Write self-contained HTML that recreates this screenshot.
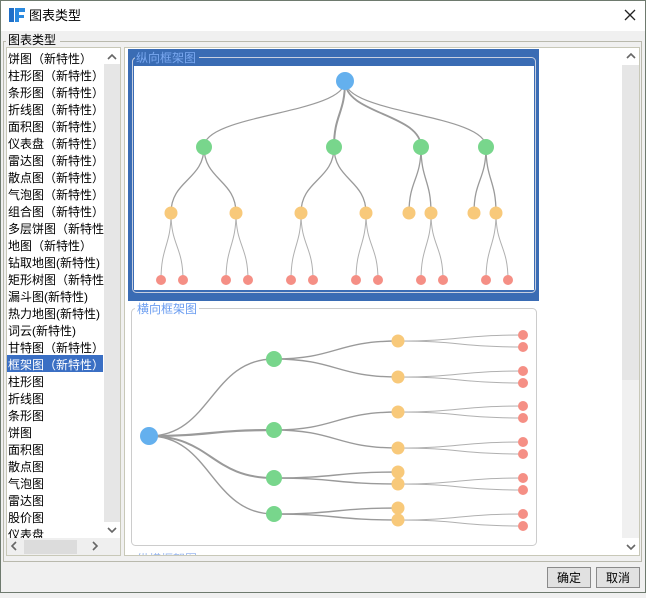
<!DOCTYPE html>
<html><head><meta charset="utf-8"><style>
body{margin:0;width:646px;height:593px;overflow:hidden;background:#f0f0f0;font-family:"Liberation Sans","Noto Sans CJK SC","WenQuanYi Zen Hei",sans-serif;}
svg text{font-family:"Liberation Sans","Noto Sans CJK SC","WenQuanYi Zen Hei",sans-serif;}
</style></head><body>
<svg width="646" height="593" xmlns="http://www.w3.org/2000/svg">
<rect x="0" y="0" width="646" height="593" fill="#f0f0f0"/>
<rect x="0.5" y="0.5" width="645" height="592" fill="none" stroke="#6e7a6e"/>
<rect x="1" y="1" width="644" height="30" fill="#fff"/>
<path d="M9 8 h5 v14 h-5z" fill="#1f6fc8"/><path d="M15 8 h10 v4 h-6 v3 h5 v3 h-5 v4 h-4z" fill="#2a8ae0"/>
<text x="29" y="20" font-size="13" fill="#000">图表类型</text>
<path d="M625 10 l10 10 M635 10 l-10 10" stroke="#222" stroke-width="1.3"/>
<rect x="3.5" y="41.5" width="638" height="520" fill="none" stroke="#b9b9ad"/>
<rect x="6" y="34" width="54" height="14" fill="#f0f0f0"/>
<text x="8" y="44" font-size="12">图表类型</text>
<rect x="6.5" y="47.5" width="114" height="508" fill="#fff" stroke="#c8c8b8"/>
<rect x="104" y="48" width="16" height="490" fill="#e6e6e6"/>
<rect x="104" y="48" width="16" height="16" fill="#fff"/>
<path d="M108 59 l4 -4 l4 4" stroke="#666" stroke-width="1.6" fill="none"/>
<rect x="104" y="522" width="16" height="16" fill="#fff"/>
<path d="M108 528 l4 4 l4 -4" stroke="#666" stroke-width="1.6" fill="none"/>
<rect x="7" y="355" width="96" height="17" fill="#3a6fc4"/>
<g font-size="12" fill="#000">
<text x="8" y="63">饼图（新特性）</text>
<text x="8" y="80">柱形图（新特性）</text>
<text x="8" y="97">条形图（新特性）</text>
<text x="8" y="114">折线图（新特性）</text>
<text x="8" y="131">面积图（新特性）</text>
<text x="8" y="148">仪表盘（新特性）</text>
<text x="8" y="165">雷达图（新特性）</text>
<text x="8" y="182">散点图（新特性）</text>
<text x="8" y="199">气泡图（新特性）</text>
<text x="8" y="216">组合图（新特性）</text>
<text x="8" y="233">多层饼图（新特性</text>
<text x="8" y="250">地图（新特性）</text>
<text x="8" y="267">钻取地图(新特性)</text>
<text x="8" y="284">矩形树图（新特性</text>
<text x="8" y="301">漏斗图(新特性)</text>
<text x="8" y="318">热力地图(新特性)</text>
<text x="8" y="335">词云(新特性)</text>
<text x="8" y="352">甘特图（新特性）</text>
<text x="8" y="369" fill="#fff">框架图（新特性）</text>
<text x="8" y="386">柱形图</text>
<text x="8" y="403">折线图</text>
<text x="8" y="420">条形图</text>
<text x="8" y="437">饼图</text>
<text x="8" y="454">面积图</text>
<text x="8" y="471">散点图</text>
<text x="8" y="488">气泡图</text>
<text x="8" y="505">雷达图</text>
<text x="8" y="522">股价图</text>
<text x="8" y="539">仪表盘</text>
</g>
<rect x="7" y="538" width="113" height="17" fill="#efefef"/>
<rect x="24" y="540" width="53" height="14" fill="#dcdcdc"/>
<path d="M16 542 l-4 4 l4 4" stroke="#666" stroke-width="1.6" fill="none"/>
<path d="M93 542 l4 4 l-4 4" stroke="#666" stroke-width="1.6" fill="none"/>
<rect x="124.5" y="47.5" width="515" height="508" fill="#fff" stroke="#c8c8b8"/>
<rect x="622" y="48" width="17" height="490" fill="#e6e6e6"/>
<rect x="622" y="48" width="17" height="17" fill="#fff"/>
<path d="M627 58 l4 -4 l4 4" stroke="#666" stroke-width="1.6" fill="none"/>
<rect x="622" y="380" width="17" height="158" fill="#f0f0f0"/>
<rect x="622" y="538" width="17" height="17" fill="#fff"/>
<path d="M627 545 l4 4 l4 -4" stroke="#666" stroke-width="1.6" fill="none"/>
<rect x="128" y="49" width="411" height="252" fill="#3a6cb4"/>
<rect x="134" y="66" width="400" height="224" fill="#fff"/>
<rect x="132.5" y="57.5" width="403" height="235" rx="4" fill="none" stroke="#c8d0e0"/>
<rect x="135" y="50" width="64" height="14" fill="#3a6cb4"/>
<text x="136" y="62" font-size="12" fill="#7aa8f0">纵向框架图</text>
<g fill="none" stroke="#9a9a9a">
<path d="M345 81 C345 114 204 114 204 147" stroke-width="1.2"/>
<path d="M345 81 C345 114 334 114 334 147" stroke-width="2"/>
<path d="M345 81 C345 114 421 114 421 147" stroke-width="1.8"/>
<path d="M345 81 C345 114 486 114 486 147" stroke-width="1.2"/>
<g stroke-width="1.3">
<path d="M204 147 C204 180 171 180 171 213"/><path d="M204 147 C204 180 236 180 236 213"/>
<path d="M334 147 C334 180 301 180 301 213"/><path d="M334 147 C334 180 366 180 366 213"/>
<path d="M421 147 C421 180 409 180 409 213"/><path d="M421 147 C421 180 431 180 431 213"/>
<path d="M486 147 C486 180 474 180 474 213"/><path d="M486 147 C486 180 496 180 496 213"/>
</g>
<g stroke-width="1" stroke="#b0b0b0">
<path d="M171 213 C171 246 161 246 161 280"/><path d="M171 213 C171 246 183 246 183 280"/>
<path d="M236 213 C236 246 226 246 226 280"/><path d="M236 213 C236 246 248 246 248 280"/>
<path d="M301 213 C301 246 291 246 291 280"/><path d="M301 213 C301 246 313 246 313 280"/>
<path d="M366 213 C366 246 356 246 356 280"/><path d="M366 213 C366 246 378 246 378 280"/>
<path d="M431 213 C431 246 421 246 421 280"/><path d="M431 213 C431 246 443 246 443 280"/>
<path d="M496 213 C496 246 486 246 486 280"/><path d="M496 213 C496 246 508 246 508 280"/>
</g>
</g>
<circle cx="345" cy="81" r="9" fill="#64b0ee"/>
<g fill="#78d68c"><circle cx="204" cy="147" r="8"/><circle cx="334" cy="147" r="8"/><circle cx="421" cy="147" r="8"/><circle cx="486" cy="147" r="8"/></g>
<g fill="#f8c97a"><circle cx="171" cy="213" r="6.5"/><circle cx="236" cy="213" r="6.5"/><circle cx="301" cy="213" r="6.5"/><circle cx="366" cy="213" r="6.5"/><circle cx="409" cy="213" r="6.5"/><circle cx="431" cy="213" r="6.5"/><circle cx="474" cy="213" r="6.5"/><circle cx="496" cy="213" r="6.5"/></g>
<g fill="#f58f85"><circle cx="161" cy="280" r="5"/><circle cx="183" cy="280" r="5"/><circle cx="226" cy="280" r="5"/><circle cx="248" cy="280" r="5"/><circle cx="291" cy="280" r="5"/><circle cx="313" cy="280" r="5"/><circle cx="356" cy="280" r="5"/><circle cx="378" cy="280" r="5"/><circle cx="421" cy="280" r="5"/><circle cx="443" cy="280" r="5"/><circle cx="486" cy="280" r="5"/><circle cx="508" cy="280" r="5"/></g>
<rect x="131.5" y="308.5" width="405" height="237" rx="4" fill="none" stroke="#cccccc"/>
<rect x="135" y="301" width="64" height="14" fill="#fff"/>
<text x="137" y="313" font-size="12" fill="#6a9cf0">横向框架图</text>
<g fill="none" stroke="#9a9a9a">
<path d="M149 436 C211 436 211 359 274 359" stroke-width="1.4"/>
<path d="M149 436 C211 436 211 430 274 430" stroke-width="2.2"/>
<path d="M149 436 C211 436 211 478 274 478" stroke-width="2"/>
<path d="M149 436 C211 436 211 514 274 514" stroke-width="1.4"/>
<g stroke-width="1.4">
<path d="M274 359 C336 359 336 341 398 341"/><path d="M274 359 C336 359 336 377 398 377"/>
<path d="M274 430 C336 430 336 412 398 412"/><path d="M274 430 C336 430 336 448 398 448"/>
<path d="M274 478 C336 478 336 472 398 472"/><path d="M274 478 C336 478 336 484 398 484"/>
<path d="M274 514 C336 514 336 508 398 508"/><path d="M274 514 C336 514 336 520 398 520"/>
</g>
<g stroke-width="1" stroke="#b0b0b0">
<path d="M398 341 C460 341 460 335 523 335"/><path d="M398 341 C460 341 460 347 523 347"/>
<path d="M398 377 C460 377 460 371 523 371"/><path d="M398 377 C460 377 460 383 523 383"/>
<path d="M398 412 C460 412 460 406 523 406"/><path d="M398 412 C460 412 460 418 523 418"/>
<path d="M398 448 C460 448 460 442 523 442"/><path d="M398 448 C460 448 460 454 523 454"/>
<path d="M398 484 C460 484 460 478 523 478"/><path d="M398 484 C460 484 460 490 523 490"/>
<path d="M398 520 C460 520 460 514 523 514"/><path d="M398 520 C460 520 460 526 523 526"/>
</g>
</g>
<circle cx="149" cy="436" r="9" fill="#64b0ee"/>
<g fill="#78d68c"><circle cx="274" cy="359" r="8"/><circle cx="274" cy="430" r="8"/><circle cx="274" cy="478" r="8"/><circle cx="274" cy="514" r="8"/></g>
<g fill="#f8c97a"><circle cx="398" cy="341" r="6.5"/><circle cx="398" cy="377" r="6.5"/><circle cx="398" cy="412" r="6.5"/><circle cx="398" cy="448" r="6.5"/><circle cx="398" cy="472" r="6.5"/><circle cx="398" cy="484" r="6.5"/><circle cx="398" cy="508" r="6.5"/><circle cx="398" cy="520" r="6.5"/></g>
<g fill="#f58f85"><circle cx="523" cy="335" r="5"/><circle cx="523" cy="347" r="5"/><circle cx="523" cy="371" r="5"/><circle cx="523" cy="383" r="5"/><circle cx="523" cy="406" r="5"/><circle cx="523" cy="418" r="5"/><circle cx="523" cy="442" r="5"/><circle cx="523" cy="454" r="5"/><circle cx="523" cy="478" r="5"/><circle cx="523" cy="490" r="5"/><circle cx="523" cy="514" r="5"/><circle cx="523" cy="526" r="5"/></g>
<clipPath id="c"><rect x="125" y="553" width="496" height="2"/></clipPath>
<text x="137" y="563" font-size="12" fill="#9ab8f0" clip-path="url(#c)">纵横框架图</text>
<rect x="547.5" y="567.5" width="43" height="20" fill="#e1e1e1" stroke="#8a8a8a"/>
<text x="557" y="582" font-size="12">确定</text>
<rect x="596.5" y="567.5" width="43" height="20" fill="#e1e1e1" stroke="#8a8a8a"/>
<text x="606" y="582" font-size="12">取消</text>
</svg>
</body></html>
